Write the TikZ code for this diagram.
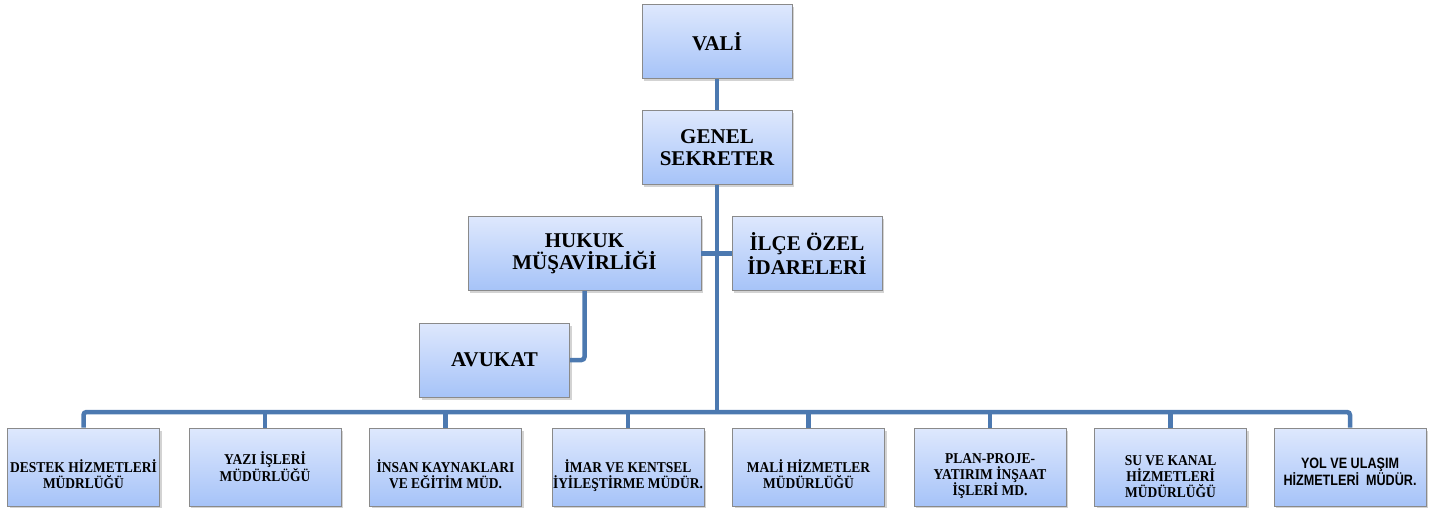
\documentclass[tikz,border=0pt]{standalone}
\usepackage{fontspec}
\setmainfont{Liberation Serif}
\newfontfamily\smallserif[FakeStretch=0.9]{Liberation Serif}
\newfontfamily\narrowsans[FakeStretch=0.84]{Liberation Sans}
\usetikzlibrary{shadows}

\definecolor{boxtop}{HTML}{DEE8FD}
\definecolor{boxbot}{HTML}{A6C3F8}
\definecolor{boxline}{HTML}{8A8A8A}
\definecolor{linkblue}{HTML}{4C79B0}

% pushes the lines of a lower box a little down
\newcommand{\lowdown}[1]{\rule{0pt}{#1}}

\tikzset{
  unit/.style={draw=boxline, line width=0.8pt, top color=boxtop, bottom color=boxbot,
    drop shadow={opacity=0.35, shadow xshift=2pt, shadow yshift=-2.5pt},
    inner sep=0pt, align=center, text=black},
  bigunit/.style={unit, minimum width=150pt, minimum height=74pt,
    font=\fontsize{21}{22}\selectfont\bfseries},
  smallunit/.style={unit, minimum width=152pt, minimum height=78pt,
    font=\smallserif\fontsize{15}{16}\selectfont\bfseries},
  link/.style={draw=linkblue, line width=4.5pt, rounded corners=3pt}
}

\begin{document}
\begin{tikzpicture}[x=1pt,y=1pt]
          \useasboundingbox (0,0) rectangle (1442,-508);
          % upper part
          \node[bigunit] (vali) at (717,-41.5) {VALİ};
          \node[bigunit] (gensek) at (717,-147.5) {GENEL\\SEKRETER};
          \node[bigunit, minimum width=233pt] (hukuk) at (584.5,-253.5) {HUKUK\\MÜŞAVİRLİĞİ};
          \node[bigunit] (ilce) at (807,-253.5) {İLÇE ÖZEL\\İDARELERİ};
          \node[bigunit] (avukat) at (494.5,-360) {AVUKAT};
          \coordinate (bus) at (717,-412);
          % lower row
          \node[smallunit] (destek) at (83.5,-467) {\lowdown{28pt}DESTEK HİZMETLERİ\\MÜDRLÜĞÜ};
          \node[smallunit] (yazi) at (265,-467) {YAZI İŞLERİ\\MÜDÜRLÜĞÜ};
          \node[smallunit] (insan) at (445.5,-467) {\lowdown{28pt}İNSAN KAYNAKLARI\\VE EĞİTİM MÜD.};
          \node[smallunit] (imar) at (628,-467) {\lowdown{30pt}İMAR VE KENTSEL\\İYİLEŞTİRME MÜDÜR.};
          \node[smallunit] (mali) at (808.5,-467) {\lowdown{28pt}MALİ HİZMETLER\\MÜDÜRLÜĞÜ};
          \node[smallunit] (plan) at (990,-467) {\lowdown{28pt}PLAN-PROJE-\\YATIRIM İNŞAAT\\İŞLERİ MD.};
          \node[smallunit] (su) at (1170.5,-467) {\lowdown{30pt}SU VE KANAL\\HİZMETLERİ\\MÜDÜRLÜĞÜ};
          \node[smallunit, font=\narrowsans\fontsize{15}{17}\selectfont\bfseries] (yol) at (1350,-467) {\lowdown{20pt}YOL VE ULAŞIM\\HİZMETLERİ\ \ MÜDÜR.};
          % links
          \draw[link] (vali) -- (gensek);
          \draw[link] (gensek) -- (bus);
          \draw[link] (hukuk) -- (ilce);
          \draw[link] (hukuk.south) |- (avukat.east);
          \draw[link] (destek.north) |- (bus) -| (yol.north);
          \draw[link] (yazi.north) -- (yazi.north |- bus);
          \draw[link] (insan.north) -- (insan.north |- bus);
          \draw[link] (imar.north) -- (imar.north |- bus);
          \draw[link] (mali.north) -- (mali.north |- bus);
          \draw[link] (plan.north) -- (plan.north |- bus);
          \draw[link] (su.north) -- (su.north |- bus);
        \end{tikzpicture}
\end{document}
